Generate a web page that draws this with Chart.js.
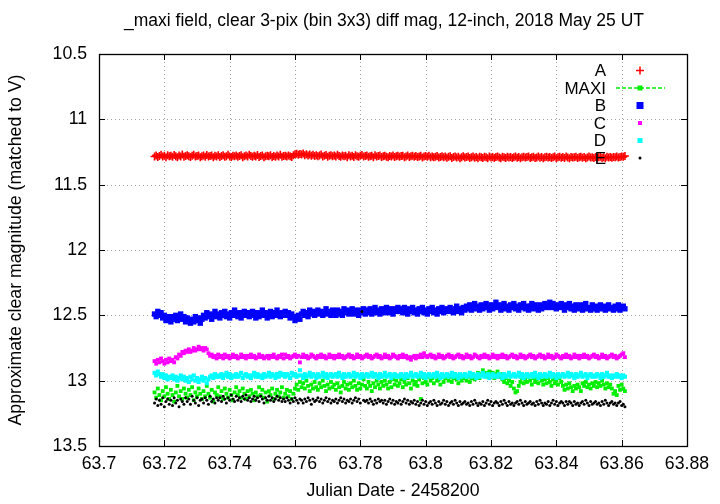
<!DOCTYPE html>
<html>
<head>
<meta charset="utf-8">
<script src="https://cdn.jsdelivr.net/npm/chart.js@4.4.1/dist/chart.umd.min.js"></script>
<style>
  body { margin: 0; background: #fff; }
</style>
</head>
<body>
<canvas id="chart" width="720" height="504"></canvas>
<script>
// Julian Date - 2458200
const jd = [
  63.7170,63.7175,63.7180,63.7185,63.7190,63.7195,63.7200,63.7205,63.7210,63.7215,
  63.7220,63.7225,63.7230,63.7235,63.7240,63.7245,63.7250,63.7255,63.7260,63.7265,
  63.7270,63.7275,63.7280,63.7285,63.7290,63.7295,63.7300,63.7305,63.7310,63.7315,
  63.7320,63.7325,63.7330,63.7335,63.7340,63.7345,63.7350,63.7355,63.7360,63.7365,
  63.7370,63.7375,63.7380,63.7385,63.7390,63.7395,63.7400,63.7405,63.7410,63.7415,
  63.7420,63.7425,63.7430,63.7435,63.7440,63.7445,63.7450,63.7455,63.7460,63.7465,
  63.7470,63.7475,63.7480,63.7485,63.7490,63.7495,63.7500,63.7505,63.7510,63.7515,
  63.7520,63.7525,63.7530,63.7535,63.7540,63.7545,63.7550,63.7555,63.7560,63.7565,
  63.7570,63.7575,63.7580,63.7585,63.7590,63.7595,63.7600,63.7605,63.7610,63.7615,
  63.7620,63.7625,63.7630,63.7635,63.7640,63.7645,63.7650,63.7655,63.7660,63.7665,
  63.7670,63.7675,63.7680,63.7685,63.7690,63.7695,63.7700,63.7705,63.7710,63.7715,
  63.7720,63.7725,63.7730,63.7735,63.7740,63.7745,63.7750,63.7755,63.7760,63.7765,
  63.7770,63.7775,63.7780,63.7785,63.7790,63.7795,63.7800,63.7805,63.7810,63.7815,
  63.7820,63.7825,63.7830,63.7835,63.7840,63.7845,63.7850,63.7855,63.7860,63.7865,
  63.7870,63.7875,63.7880,63.7885,63.7890,63.7895,63.7900,63.7905,63.7910,63.7915,
  63.7920,63.7925,63.7930,63.7935,63.7940,63.7945,63.7950,63.7955,63.7960,63.7965,
  63.7970,63.7975,63.7980,63.7985,63.7990,63.7995,63.8000,63.8005,63.8010,63.8015,
  63.8020,63.8025,63.8030,63.8035,63.8040,63.8045,63.8050,63.8055,63.8060,63.8065,
  63.8070,63.8075,63.8080,63.8085,63.8090,63.8095,63.8100,63.8105,63.8110,63.8115,
  63.8120,63.8125,63.8130,63.8135,63.8140,63.8145,63.8150,63.8155,63.8160,63.8165,
  63.8170,63.8175,63.8180,63.8185,63.8190,63.8195,63.8200,63.8205,63.8210,63.8215,
  63.8220,63.8225,63.8230,63.8235,63.8240,63.8245,63.8250,63.8255,63.8260,63.8265,
  63.8270,63.8275,63.8280,63.8285,63.8290,63.8295,63.8300,63.8305,63.8310,63.8315,
  63.8320,63.8325,63.8330,63.8335,63.8340,63.8345,63.8350,63.8355,63.8360,63.8365,
  63.8370,63.8375,63.8380,63.8385,63.8390,63.8395,63.8400,63.8405,63.8410,63.8415,
  63.8420,63.8425,63.8430,63.8435,63.8440,63.8445,63.8450,63.8455,63.8460,63.8465,
  63.8470,63.8475,63.8480,63.8485,63.8490,63.8495,63.8500,63.8505,63.8510,63.8515,
  63.8520,63.8525,63.8530,63.8535,63.8540,63.8545,63.8550,63.8555,63.8560,63.8565,
  63.8570,63.8575,63.8580,63.8585,63.8590,63.8595,63.8600,63.8605,63.8610
];

const magA = [
  11.285,11.276,11.289,11.281,11.272,11.284,11.279,11.290,11.275,11.283,
  11.278,11.287,11.273,11.282,11.291,11.277,11.284,11.270,11.286,11.280,
  11.274,11.283,11.288,11.279,11.271,11.285,11.280,11.276,11.290,11.282,
  11.277,11.286,11.273,11.284,11.281,11.276,11.291,11.279,11.285,11.274,
  11.288,11.280,11.275,11.286,11.282,11.271,11.284,11.289,11.278,11.283,
  11.276,11.287,11.281,11.274,11.290,11.283,11.277,11.285,11.272,11.280,
  11.286,11.279,11.284,11.273,11.288,11.281,11.276,11.290,11.282,11.278,
  11.283,11.275,11.289,11.280,11.286,11.277,11.284,11.271,11.287,11.281,
  11.279,11.285,11.276,11.283,11.288,11.274,11.268,11.263,11.272,11.266,
  11.270,11.262,11.274,11.267,11.276,11.270,11.279,11.272,11.281,11.275,
  11.282,11.276,11.270,11.284,11.278,11.273,11.286,11.279,11.275,11.283,
  11.277,11.285,11.272,11.281,11.287,11.276,11.283,11.279,11.290,11.274,
  11.284,11.278,11.288,11.275,11.282,11.286,11.279,11.273,11.285,11.281,
  11.276,11.287,11.283,11.279,11.290,11.274,11.285,11.281,11.277,11.288,
  11.282,11.278,11.286,11.291,11.280,11.284,11.276,11.289,11.283,11.279,
  11.287,11.281,11.278,11.290,11.284,11.276,11.288,11.283,11.279,11.286,
  11.280,11.289,11.284,11.278,11.292,11.285,11.281,11.287,11.279,11.290,
  11.284,11.291,11.286,11.280,11.293,11.288,11.283,11.290,11.285,11.294,
  11.287,11.282,11.295,11.289,11.284,11.292,11.286,11.297,11.290,11.283,
  11.293,11.288,11.285,11.296,11.290,11.284,11.294,11.289,11.298,11.286,
  11.291,11.295,11.286,11.290,11.297,11.284,11.292,11.288,11.295,11.289,
  11.284,11.293,11.298,11.287,11.291,11.295,11.286,11.292,11.289,11.296,
  11.290,11.285,11.294,11.288,11.297,11.291,11.286,11.293,11.289,11.284,
  11.295,11.290,11.287,11.296,11.292,11.285,11.294,11.289,11.298,11.291,
  11.286,11.293,11.288,11.295,11.290,11.284,11.297,11.291,11.287,11.294,
  11.289,11.296,11.285,11.292,11.298,11.288,11.293,11.290,11.286,11.295,
  11.291,11.287,11.294,11.289,11.297,11.292,11.285,11.293,11.290,11.296,
  11.288,11.294,11.290,11.286,11.295,11.291,11.298,11.287,11.293,11.289,
  11.294,11.288,11.291,11.285,11.293,11.289,11.284,11.287,11.281
];

const magMaxi = [
  13.09,13.13,13.06,13.11,13.15,13.08,13.12,13.05,13.10,13.14,
  13.07,13.11,13.16,13.09,13.04,13.12,13.08,13.14,13.06,13.10,
  13.13,13.07,13.11,13.05,13.15,13.09,13.12,13.06,13.10,13.14,
  13.08,13.12,13.04,13.10,13.13,13.07,13.16,13.09,13.11,13.05,
  13.12,13.08,13.14,13.06,13.10,13.13,13.07,13.11,13.15,13.09,
  13.05,13.11,13.08,13.13,13.06,13.10,13.14,13.08,13.12,13.07,
  13.10,13.15,13.09,13.12,13.05,13.11,13.07,13.13,13.09,13.16,
  13.08,13.11,13.06,13.14,13.10,13.07,13.12,13.09,13.05,13.13,
  13.10,13.07,13.12,13.08,13.14,13.10,13.06,13.03,13.07,13.01,
  13.05,13.02,13.06,13.00,13.04,13.08,13.03,13.06,13.01,13.05,
  13.07,13.02,13.05,13.00,13.04,13.08,13.03,13.06,13.01,13.05,
  13.03,13.07,13.02,13.05,13.09,13.04,13.01,13.06,13.03,13.07,
  13.02,13.05,13.00,13.04,13.07,13.02,13.06,13.03,12.99,13.04,
  13.06,13.01,13.04,13.08,13.02,13.05,13.00,13.03,13.06,13.01,
  13.04,13.00,13.03,13.06,13.01,13.05,12.99,13.03,13.00,13.04,
  13.02,12.99,13.05,13.01,13.03,12.98,13.02,13.06,13.00,13.03,
  13.01,13.04,12.99,13.14,13.02,12.98,13.01,13.03,12.97,13.00,
  12.98,13.02,12.96,13.00,12.99,13.03,12.97,13.01,12.98,12.96,
  13.00,12.97,13.01,12.98,12.95,12.99,13.02,12.97,13.00,12.98,
  12.96,13.00,12.97,13.01,12.98,12.95,12.99,12.97,12.94,12.98,
  12.95,12.92,12.96,12.94,12.97,12.93,12.96,12.94,12.98,12.95,
  12.93,12.97,12.95,12.99,13.01,12.98,13.02,13.00,13.04,13.01,
  13.06,13.09,13.08,13.04,13.01,12.98,13.02,12.99,13.01,12.97,
  13.00,13.03,12.98,13.01,12.99,13.02,12.97,13.00,13.03,12.99,
  13.02,12.98,13.01,13.04,12.99,13.02,13.00,13.03,12.98,13.01,
  13.04,13.07,13.03,13.06,13.02,13.05,13.08,13.04,13.06,13.03,
  13.05,13.08,13.02,13.04,13.01,13.05,13.03,13.06,13.02,13.04,
  13.01,13.05,13.02,13.04,13.00,13.03,13.06,13.02,13.05,13.03,
  13.06,13.10,13.08,13.11,13.04,13.07,13.03,13.06,13.08
];

const magB = [
  12.49,12.51,12.47,12.50,12.48,12.52,12.50,12.54,12.51,12.53,
  12.55,12.51,12.53,12.50,12.54,12.52,12.49,12.53,12.51,12.55,
  12.52,12.54,12.56,12.53,12.55,12.51,12.54,12.52,12.56,12.53,
  12.50,12.52,12.48,12.51,12.49,12.53,12.50,12.47,12.51,12.49,
  12.52,12.48,12.50,12.47,12.51,12.49,12.52,12.48,12.50,12.46,
  12.49,12.51,12.48,12.52,12.50,12.47,12.50,12.48,12.51,12.49,
  12.47,12.50,12.52,12.48,12.51,12.49,12.46,12.50,12.48,12.52,
  12.49,12.47,12.51,12.48,12.50,12.46,12.49,12.51,12.48,12.50,
  12.47,12.50,12.48,12.52,12.49,12.51,12.54,12.52,12.50,12.53,
  12.49,12.47,12.50,12.48,12.51,12.46,12.49,12.47,12.50,12.48,
  12.46,12.49,12.47,12.50,12.48,12.45,12.49,12.47,12.50,12.46,
  12.48,12.50,12.46,12.49,12.47,12.50,12.45,12.48,12.46,12.49,
  12.47,12.45,12.49,12.46,12.48,12.50,12.46,12.48,12.45,12.49,
  12.46,12.48,12.45,12.49,12.47,12.44,12.48,12.46,12.49,12.45,
  12.48,12.46,12.44,12.48,12.45,12.47,12.49,12.45,12.47,12.44,
  12.47,12.45,12.48,12.44,12.47,12.49,12.45,12.47,12.44,12.48,
  12.46,12.49,12.45,12.47,12.44,12.48,12.46,12.49,12.45,12.47,
  12.44,12.48,12.46,12.49,12.45,12.47,12.44,12.48,12.46,12.45,
  12.47,12.44,12.46,12.48,12.45,12.43,12.47,12.45,12.48,12.44,
  12.46,12.43,12.45,12.42,12.46,12.44,12.41,12.45,12.43,12.46,
  12.42,12.45,12.43,12.41,12.44,12.46,12.42,12.45,12.43,12.40,
  12.44,12.42,12.46,12.43,12.41,12.45,12.43,12.46,12.42,12.44,
  12.41,12.45,12.43,12.46,12.42,12.44,12.41,12.45,12.43,12.46,
  12.43,12.41,12.45,12.42,12.44,12.46,12.42,12.45,12.43,12.41,
  12.44,12.42,12.40,12.44,12.41,12.43,12.45,12.42,12.44,12.41,
  12.43,12.46,12.42,12.44,12.41,12.45,12.43,12.46,12.42,12.44,
  12.45,12.42,12.46,12.43,12.41,12.45,12.44,12.46,12.42,12.45,
  12.43,12.46,12.44,12.42,12.45,12.43,12.46,12.44,12.42,12.45,
  12.44,12.46,12.43,12.45,12.42,12.46,12.44,12.43,12.45
];

const magC = [
  12.85,12.87,12.84,12.86,12.83,12.85,12.87,12.84,12.86,12.83,
  12.85,12.84,12.86,12.82,12.83,12.80,12.81,12.78,12.79,12.77,
  12.78,12.76,12.78,12.77,12.75,12.77,12.76,12.74,12.76,12.75,
  12.77,12.75,12.76,12.79,12.81,12.80,12.82,12.81,12.83,12.80,
  12.82,12.81,12.83,12.80,12.82,12.81,12.83,12.82,12.80,12.82,
  12.81,12.83,12.82,12.80,12.82,12.81,12.83,12.81,12.82,12.80,
  12.82,12.81,12.83,12.82,12.80,12.82,12.81,12.83,12.82,12.81,
  12.83,12.81,12.82,12.80,12.82,12.83,12.81,12.82,12.80,12.83,
  12.80,12.82,12.81,12.83,12.82,12.81,12.80,12.82,12.81,12.86,
  12.82,12.80,12.82,12.81,12.83,12.82,12.80,12.81,12.82,12.83,
  12.81,12.82,12.80,12.82,12.81,12.83,12.82,12.80,12.82,12.81,
  12.83,12.81,12.82,12.80,12.82,12.81,12.83,12.82,12.81,12.80,
  12.82,12.81,12.83,12.82,12.80,12.82,12.81,12.83,12.82,12.81,
  12.80,12.82,12.81,12.83,12.82,12.81,12.80,12.82,12.81,12.83,
  12.82,12.80,12.82,12.81,12.83,12.82,12.80,12.81,12.82,12.83,
  12.81,12.82,12.80,12.82,12.81,12.83,12.82,12.84,12.82,12.81,
  12.83,12.81,12.82,12.80,12.82,12.79,12.81,12.82,12.81,12.80,
  12.82,12.81,12.83,12.82,12.80,12.82,12.81,12.83,12.82,12.81,
  12.80,12.82,12.81,12.83,12.82,12.81,12.80,12.82,12.81,12.83,
  12.82,12.80,12.82,12.81,12.83,12.82,12.80,12.81,12.82,12.83,
  12.81,12.82,12.80,12.82,12.81,12.83,12.82,12.80,12.82,12.81,
  12.83,12.81,12.82,12.80,12.82,12.81,12.83,12.82,12.81,12.80,
  12.82,12.81,12.83,12.82,12.80,12.82,12.81,12.83,12.82,12.81,
  12.80,12.82,12.81,12.83,12.82,12.81,12.80,12.82,12.81,12.83,
  12.82,12.80,12.82,12.81,12.83,12.82,12.80,12.81,12.82,12.83,
  12.81,12.82,12.80,12.82,12.81,12.83,12.82,12.80,12.82,12.81,
  12.83,12.81,12.82,12.80,12.82,12.81,12.83,12.82,12.81,12.80,
  12.82,12.81,12.83,12.82,12.80,12.82,12.81,12.83,12.82,12.81,
  12.80,12.82,12.81,12.83,12.82,12.81,12.80,12.79,12.82
];

const magD = [
  12.94,12.96,12.93,12.95,12.97,12.95,12.98,12.96,12.99,12.97,
  12.98,12.96,12.99,12.97,13.00,12.98,12.96,12.99,12.97,13.00,
  12.98,13.01,12.97,12.99,12.96,13.00,12.98,13.01,12.99,12.97,
  13.00,12.98,13.02,12.99,12.97,12.96,12.98,12.95,12.97,12.96,
  12.97,12.95,12.98,12.96,12.94,12.97,12.95,12.98,12.96,12.97,
  12.95,12.97,12.96,12.94,12.98,12.96,12.95,12.97,12.96,12.98,
  12.96,12.94,12.97,12.95,12.97,12.96,12.98,12.95,12.97,12.96,
  12.94,12.97,12.95,12.96,12.98,12.95,12.97,12.94,12.96,12.95,
  12.97,12.95,12.96,12.98,12.94,12.96,12.95,12.97,12.96,12.92,
  12.96,12.98,12.95,12.97,12.96,12.94,12.97,12.95,12.96,12.98,
  12.95,12.97,12.96,12.94,12.97,12.95,12.98,12.96,12.95,12.97,
  12.96,12.95,12.97,12.94,12.96,12.98,12.95,12.97,12.96,12.95,
  12.97,12.96,12.94,12.97,12.95,12.96,12.98,12.95,12.97,12.96,
  12.95,12.97,12.96,12.94,12.97,12.95,12.96,12.98,12.95,12.97,
  12.96,12.94,12.97,12.96,12.95,12.98,12.96,12.95,12.97,12.96,
  12.97,12.95,12.96,12.98,12.95,12.97,12.96,12.94,12.97,12.96,
  12.95,12.97,12.96,12.94,12.97,12.95,12.98,12.96,12.95,12.97,
  12.96,12.95,12.97,12.94,12.96,12.98,12.95,12.97,12.96,12.95,
  12.97,12.96,12.94,12.97,12.95,12.96,12.98,12.95,12.97,12.96,
  12.95,12.97,12.96,12.94,12.97,12.95,12.96,12.98,12.95,12.97,
  12.96,12.94,12.97,12.96,12.95,12.98,12.96,12.95,12.97,12.96,
  12.97,12.95,12.96,12.98,12.95,12.97,12.96,12.94,12.97,12.96,
  12.95,12.97,12.96,12.94,12.97,12.95,12.98,12.96,12.95,12.97,
  12.96,12.95,12.97,12.94,12.96,12.98,12.95,12.97,12.96,12.95,
  12.97,12.96,12.94,12.97,12.95,12.96,12.98,12.95,12.97,12.96,
  12.95,12.97,12.96,12.94,12.97,12.95,12.96,12.98,12.95,12.97,
  12.96,12.94,12.97,12.96,12.95,12.98,12.96,12.95,12.97,12.96,
  12.97,12.95,12.96,12.98,12.95,12.97,12.96,12.94,12.97,12.96,
  12.98,12.96,12.97,12.95,12.97,12.96,12.98,12.96,12.97
];

const magE = [
  13.17,13.14,13.19,13.15,13.18,13.13,13.20,13.16,13.14,13.18,
  13.15,13.19,13.13,13.17,13.15,13.20,13.14,13.16,13.18,13.13,
  13.16,13.14,13.18,13.12,13.15,13.17,13.13,13.19,13.15,13.14,
  13.17,13.13,13.15,13.18,13.12,13.16,13.14,13.17,13.13,13.15,
  13.13,13.16,13.12,13.14,13.17,13.13,13.15,13.11,13.14,13.16,
  13.12,13.15,13.13,13.16,13.12,13.14,13.11,13.15,13.13,13.16,
  13.14,13.12,13.15,13.13,13.16,13.12,13.14,13.17,13.13,13.15,
  13.12,13.15,13.13,13.16,13.14,13.12,13.15,13.13,13.16,13.14,
  13.16,13.13,13.15,13.17,13.14,13.16,13.13,13.15,13.17,13.14,
  13.15,13.17,13.14,13.16,13.13,13.15,13.18,13.14,13.16,13.15,
  13.13,13.16,13.14,13.17,13.15,13.13,13.16,13.14,13.17,13.15,
  13.16,13.14,13.17,13.15,13.13,13.16,13.14,13.17,13.15,13.16,
  13.14,13.17,13.15,13.13,13.16,13.14,13.17,12.47,13.15,13.16,
  13.15,13.17,13.14,13.16,13.18,13.15,13.17,13.14,13.16,13.15,
  13.17,13.15,13.18,13.16,13.14,13.17,13.15,13.18,13.16,13.17,
  13.15,13.18,13.16,13.14,13.17,13.15,13.18,13.16,13.17,13.15,
  13.18,13.16,13.19,13.17,13.15,13.18,13.16,13.19,13.17,13.16,
  13.18,13.15,13.17,13.19,13.16,13.18,13.17,13.15,13.18,13.16,
  13.19,13.17,13.16,13.18,13.15,13.17,13.19,13.16,13.18,13.17,
  13.16,13.18,13.17,13.19,13.16,13.18,13.15,13.17,13.19,13.17,
  13.18,13.16,13.19,13.17,13.15,13.18,13.16,13.19,13.17,13.16,
  13.17,13.19,13.16,13.18,13.15,13.17,13.19,13.16,13.18,13.17,
  13.19,13.17,13.16,13.18,13.15,13.17,13.19,13.16,13.18,13.17,
  13.16,13.18,13.17,13.19,13.16,13.18,13.15,13.17,13.19,13.17,
  13.18,13.16,13.19,13.17,13.15,13.18,13.16,13.19,13.17,13.16,
  13.17,13.19,13.16,13.18,13.16,13.17,13.19,13.16,13.18,13.17,
  13.19,13.17,13.16,13.18,13.15,13.17,13.19,13.16,13.18,13.17,
  13.16,13.18,13.17,13.19,13.16,13.18,13.15,13.17,13.19,13.17,
  13.16,13.18,13.17,13.19,13.17,13.16,13.19,13.18,13.20
];

const xTickValues = [63.7,63.72,63.74,63.76,63.78,63.8,63.82,63.84,63.86,63.88];
const yTickValues = [10.5,11,11.5,12,12.5,13,13.5];
const titleText = '_maxi field, clear 3-pix (bin 3x3) diff mag, 12-inch, 2018 May 25 UT';

const FONT = "'Liberation Sans', Arial, sans-serif";
const toXY = mags => mags.map((m, i) => ({x: jd[i], y: m}));

// dotted grid behind the points
const dottedGrid = {
  id: 'dottedGrid',
  beforeDatasetsDraw(chart) {
    const {ctx, chartArea: a, scales: {x, y}} = chart;
    ctx.save();
    ctx.strokeStyle = '#a0a0a0';
    ctx.lineWidth = 1;
    ctx.setLineDash([1, 3]);
    ctx.beginPath();
    xTickValues.slice(1, -1).forEach(v => {
      const px = Math.round(x.getPixelForValue(v)) + 0.5;
      ctx.moveTo(px, a.top); ctx.lineTo(px, a.bottom);
    });
    yTickValues.slice(1, -1).forEach(v => {
      const py = Math.round(y.getPixelForValue(v)) + 0.5;
      ctx.moveTo(a.left, py); ctx.lineTo(a.right, py);
    });
    ctx.stroke();
    ctx.restore();
  }
};

// gnuplot-style border with inward tics on all four sides, plus the title
const frame = {
  id: 'frame',
  afterDatasetsDraw(chart) {
    const {ctx, chartArea: a, scales: {x, y}} = chart;
    ctx.save();
    ctx.strokeStyle = '#000';
    ctx.lineWidth = 1;
    ctx.beginPath();
    xTickValues.forEach(v => {
      const px = Math.round(x.getPixelForValue(v)) + 0.5;
      ctx.moveTo(px, a.bottom); ctx.lineTo(px, a.bottom - 6);
      ctx.moveTo(px, a.top); ctx.lineTo(px, a.top + 6);
    });
    yTickValues.forEach(v => {
      const py = Math.round(y.getPixelForValue(v)) + 0.5;
      ctx.moveTo(a.left, py); ctx.lineTo(a.left + 6, py);
      ctx.moveTo(a.right, py); ctx.lineTo(a.right - 6, py);
    });
    ctx.stroke();
    ctx.lineWidth = 1.3;
    ctx.strokeRect(Math.round(a.left) + 0.5, Math.round(a.top) + 0.5,
                   Math.round(a.width), Math.round(a.height));

    ctx.font = '17.5px ' + FONT;
    ctx.fillStyle = '#000';
    ctx.textAlign = 'center';
    ctx.textBaseline = 'middle';
    ctx.fillText(titleText, 384, 21);
    ctx.restore();
  }
};

// key in the top right corner, text right-aligned and sample to the right
const key = {
  id: 'key',
  afterDraw(chart) {
    const ctx = chart.ctx;
    const names = ['A', 'MAXI', 'B', 'C', 'D', 'E'];
    const rows = [70.5, 88, 105.5, 123, 140.5, 158];
    const sx = 640;
    ctx.save();
    ctx.font = '17px ' + FONT;
    ctx.fillStyle = '#000';
    ctx.textAlign = 'right';
    ctx.textBaseline = 'middle';
    names.forEach((n, i) => ctx.fillText(n, 606, rows[i] + 1));

    ctx.strokeStyle = '#ff0000';
    ctx.lineWidth = 1.5;
    ctx.beginPath();
    ctx.moveTo(sx - 4, rows[0]); ctx.lineTo(sx + 4, rows[0]);
    ctx.moveTo(sx, rows[0] - 4); ctx.lineTo(sx, rows[0] + 4);
    ctx.stroke();

    ctx.strokeStyle = '#00ee00';
    ctx.setLineDash([4, 2]);
    ctx.beginPath();
    ctx.moveTo(616, rows[1]); ctx.lineTo(665, rows[1]);
    ctx.stroke();
    ctx.setLineDash([]);
    ctx.fillStyle = '#00ee00';
    ctx.fillRect(sx - 2.5, rows[1] - 2.5, 5, 5);

    ctx.fillStyle = '#0000ff';
    ctx.fillRect(sx - 3.5, rows[2] - 3.5, 7, 7);
    ctx.fillStyle = '#ff00ff';
    ctx.fillRect(sx - 2, rows[3] - 2, 4, 4);
    ctx.fillStyle = '#00ffff';
    ctx.fillRect(sx - 2.5, rows[4] - 2.5, 5, 5);
    ctx.fillStyle = '#000';
    ctx.beginPath();
    ctx.arc(sx, rows[5], 1.5, 0, Math.PI * 2);
    ctx.fill();
    ctx.restore();
  }
};

Chart.defaults.font.family = FONT;
Chart.defaults.font.size = 17.7;
Chart.defaults.color = '#000';

new Chart(document.getElementById('chart'), {
  type: 'scatter',
  data: {
    datasets: [
      { label: 'A', data: toXY(magA), order: 5, pointStyle: 'cross', pointRadius: 4,
        borderColor: '#ff0000', backgroundColor: '#ff0000', pointBorderWidth: 1.6 },
      { label: 'MAXI', data: toXY(magMaxi), order: 4, pointStyle: 'rect', pointRadius: 2.7,
        borderColor: '#00ee00', backgroundColor: '#00ee00', pointBorderWidth: 0 },
      { label: 'B', data: toXY(magB), order: 3, pointStyle: 'rect', pointRadius: 3.8,
        borderColor: '#0000ff', backgroundColor: '#0000ff', pointBorderWidth: 0 },
      { label: 'C', data: toXY(magC), order: 2, pointStyle: 'rect', pointRadius: 2.7,
        borderColor: '#ff00ff', backgroundColor: '#ff00ff', pointBorderWidth: 0 },
      { label: 'D', data: toXY(magD), order: 1, pointStyle: 'rect', pointRadius: 2.9,
        borderColor: '#00ffff', backgroundColor: '#00ffff', pointBorderWidth: 0 },
      { label: 'E', data: toXY(magE), order: 0, pointStyle: 'circle', pointRadius: 1.5,
        borderColor: '#000', backgroundColor: '#000', pointBorderWidth: 0 }
    ]
  },
  options: {
    responsive: false,
    animation: false,
    layout: { padding: { left: 0, right: 33, top: 54, bottom: 0 } },
    plugins: {
      legend: { display: false },
      tooltip: { enabled: false },
      title: { display: false }
    },
    scales: {
      x: {
        type: 'linear',
        min: 63.7,
        max: 63.88,
        afterBuildTicks: s => { s.ticks = xTickValues.map(v => ({ value: v })); },
        afterFit: s => { s.height = 58; },
        ticks: { callback: v => String(v), padding: 7, maxRotation: 0, autoSkip: false },
        grid: { display: false, drawTicks: false },
        border: { display: false },
        title: { display: true, text: 'Julian Date - 2458200', padding: { top: 0, bottom: 2.5 } }
      },
      y: {
        reverse: true,
        min: 10.5,
        max: 13.5,
        afterBuildTicks: s => { s.ticks = yTickValues.map(v => ({ value: v })); },
        afterFit: s => { s.width = 99; },
        ticks: { callback: v => String(v), padding: 12, autoSkip: false },
        grid: { display: false, drawTicks: false },
        border: { display: false },
        title: { display: true, text: 'Approximate clear magnitude (matched to V)', padding: { top: 5, bottom: 0 } }
      }
    }
  },
  plugins: [dottedGrid, frame, key]
});
</script>
</body>
</html>
